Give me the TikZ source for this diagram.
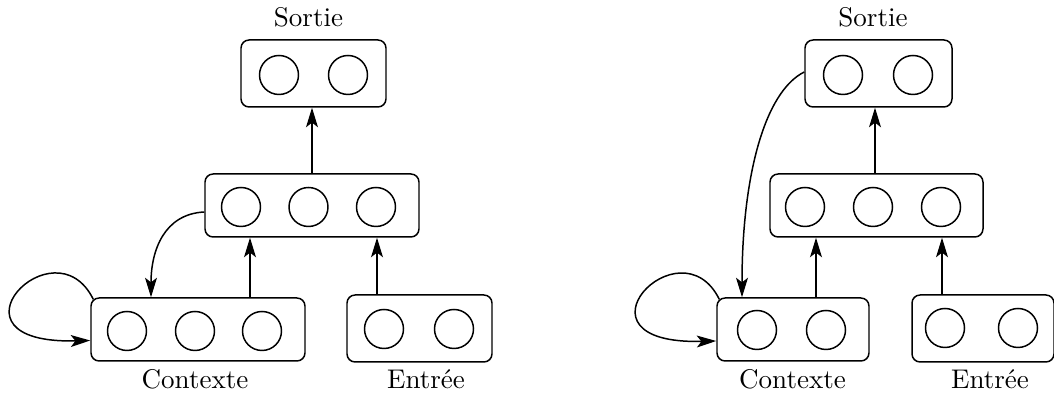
\documentclass[tikz,border=0pt]{standalone}
\usetikzlibrary{arrows.meta}
\def\pxu{0.37pt}
\tikzset{
  box/.style={draw, rounded corners=3pt, inner sep=0pt, line width=0.55pt},
  neuron/.style={draw, circle, inner sep=0pt, minimum size=39*\pxu, line width=0.55pt},
  lbl/.style={anchor=base, inner sep=0pt, font=\normalsize},
  arr/.style={-{Stealth[length=7.2pt,width=4.4pt,inset=1.7pt]}, line width=0.55pt},
}
\begin{document}
\begin{tikzpicture}[x=\pxu,y=\pxu]
\useasboundingbox (0,0) rectangle (1054,394);
% ---------- left diagram ----------
\node[box, minimum width=145*\pxu, minimum height=67*\pxu] (SL) at (313.5,320.5) {};
\node[neuron] (SL1) at (279,319) {};
\node[neuron] (SL2) at (348,319) {};
\node[box, minimum width=214*\pxu, minimum height=63*\pxu] (ML) at (312,188.5) {};
\node[neuron] (ML1) at (241,187) {};
\node[neuron] (ML2) at (308.5,187) {};
\node[neuron] (ML3) at (376,187) {};
\node[box, minimum width=214*\pxu, minimum height=63*\pxu] (CL) at (198,64.5) {};
\node[neuron] (CL1) at (127,63) {};
\node[neuron] (CL2) at (195,63) {};
\node[neuron] (CL3) at (262,63) {};
\node[box, minimum width=145*\pxu, minimum height=67*\pxu] (EL) at (419.5,65.5) {};
\node[neuron] (EL1) at (384,65) {};
\node[neuron] (EL2) at (454,65) {};
\node[lbl] (tSL) at (308.5,367) {Sortie};
\node[lbl] (tCL) at (195,5) {Contexte};
\node[lbl] (tEL) at (426,5) {Entrée};
\draw[arr] ([shift={(52,0)}]CL.north) -- ([shift={(52,0)}]CL.north |- ML.south);
\draw[arr] ([shift={(-42.5,0)}]EL.north) -- ([shift={(-42.5,0)}]EL.north |- ML.south);
\draw[arr] (ML.north) -- (ML.north |- SL.south);
\draw[arr] ([shift={(0,-6.5)}]ML.west) .. controls +(-40,-2) and +(0,47) .. ([shift={(-47,0)}]CL.north);
\draw[arr] ([shift={(3,-2)}]CL.north west) .. controls +(-39,79) and +(-155,-4) .. ([shift={(0,-11)}]CL.west);
% ---------- right diagram ----------
\node[box, minimum width=147*\pxu, minimum height=67*\pxu] (SR) at (878.5,320.5) {};
\node[neuron] (SR1) at (843,319) {};
\node[neuron] (SR2) at (913,319) {};
\node[box, minimum width=213*\pxu, minimum height=63*\pxu] (MR) at (876.5,188.5) {};
\node[neuron] (MR1) at (805,187) {};
\node[neuron] (MR2) at (873,187) {};
\node[neuron] (MR3) at (941,187) {};
\node[box, minimum width=152*\pxu, minimum height=63*\pxu] (CR) at (793,64.5) {};
\node[neuron] (CR1) at (757,64) {};
\node[neuron] (CR2) at (826,64) {};
\node[box, minimum width=142*\pxu, minimum height=67*\pxu] (ER) at (983,65.5) {};
\node[neuron] (ER1) at (945,66) {};
\node[neuron] (ER2) at (1018,66) {};
\node[lbl] (tSR) at (873,367) {Sortie};
\node[lbl] (tCR) at (792.5,5) {Contexte};
\node[lbl] (tER) at (990,5) {Entrée};
\draw[arr] ([shift={(23,0)}]CR.north) -- ([shift={(23,0)}]CR.north |- MR.south);
\draw[arr] ([shift={(-41,0)}]ER.north) -- ([shift={(-41,0)}]ER.north |- MR.south);
\draw[arr] ([shift={(-1.5,0)}]MR.north) -- ([shift={(-1.5,0)}]MR.north |- SR.south);
\draw[arr] ([shift={(0,1.5)}]SR.west) .. controls +(-40,-20) and +(0,120) .. ([shift={(-51,0)}]CR.north);
\draw[arr] ([shift={(3,-2)}]CR.north west) .. controls +(-39,79) and +(-155,-4) .. ([shift={(0,-11.5)}]CR.west);
\end{tikzpicture}
\end{document}
